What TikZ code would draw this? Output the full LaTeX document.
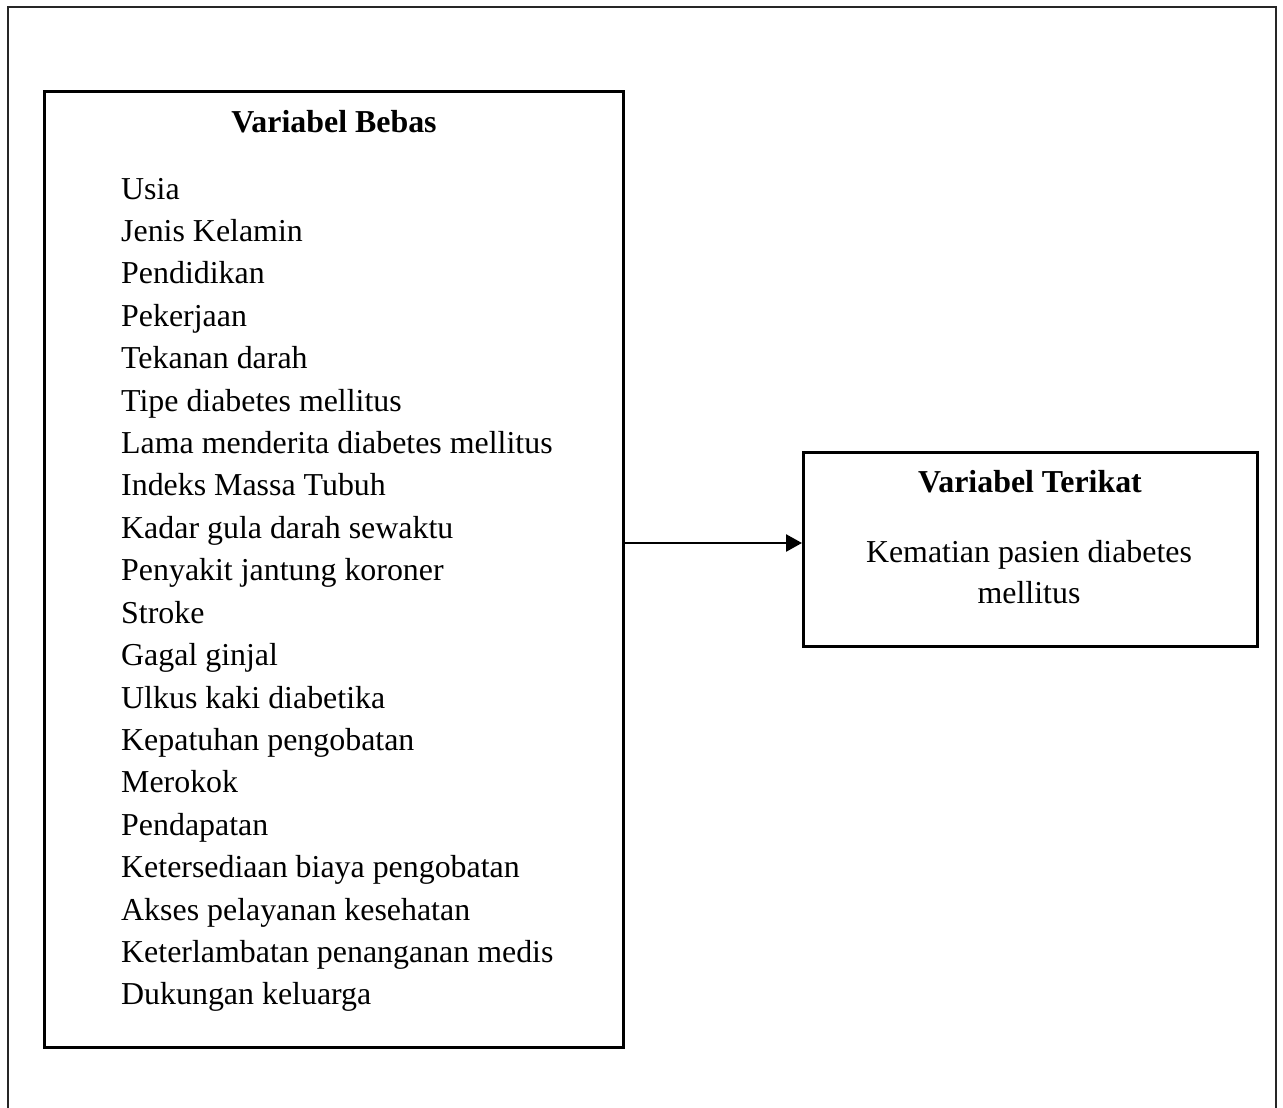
\documentclass[tikz,border=0pt]{standalone}
\usepackage{fontspec}
\setmainfont{Liberation Serif}
\usetikzlibrary{arrows.meta}
\begin{document}
\begin{tikzpicture}[x=1pt,y=-1pt,
  box/.style={draw=black,line width=3pt},
  frame/.style={draw=black!85,line width=2.2pt},
  item/.style={anchor=base west,inner sep=0pt,font=\fontsize{31.9}{42.4}\selectfont},
  ttl/.style={anchor=base,inner sep=0pt,font=\fontsize{31.9}{42.4}\selectfont\bfseries},
  txt/.style={anchor=base,inner sep=0pt,font=\fontsize{31.9}{42.4}\selectfont},
  conn/.style={line width=2.6pt,-{Triangle[length=16pt,width=17pt]}}]
\useasboundingbox (0,0) rectangle (1283,1108);
\fill[white] (0,0) rectangle (1283,1108);
% outer frame (open at bottom)
\draw[frame] (8,1108) -- (8,7) -- (1276,7) -- (1276,1108);
% boxes
\node[box,minimum width=579pt,minimum height=956pt,inner sep=0pt,anchor=north west] (left) at (43,90) {};
\node[box,minimum width=454pt,minimum height=194pt,inner sep=0pt,anchor=north west] (right) at (802,451) {};
\node[ttl] (tl) at (334,132) {Variabel Bebas};
\foreach \t [count=\i from 0] in {Usia,Jenis Kelamin,Pendidikan,Pekerjaan,Tekanan darah,Tipe diabetes mellitus,Lama menderita diabetes mellitus,Indeks Massa Tubuh,Kadar gula darah sewaktu,Penyakit jantung koroner,Stroke,Gagal ginjal,Ulkus kaki diabetika,Kepatuhan pengobatan,Merokok,Pendapatan,Ketersediaan biaya pengobatan,Akses pelayanan kesehatan,Keterlambatan penanganan medis,Dukungan keluarga}
  \node[item] (it\i) at (121,199+42.42*\i) {\t};
\node[ttl] (tr) at (1030,492) {Variabel Terikat};
\node[txt] (k1) at (1029,562) {Kematian pasien diabetes};
\node[txt] (k2) at (1029,603) {mellitus};
\coordinate (a) at (left.east |- 0,543);
\coordinate (b) at (right.west |- 0,543);
\draw[conn] (a) -- (b);
\end{tikzpicture}
\end{document}
